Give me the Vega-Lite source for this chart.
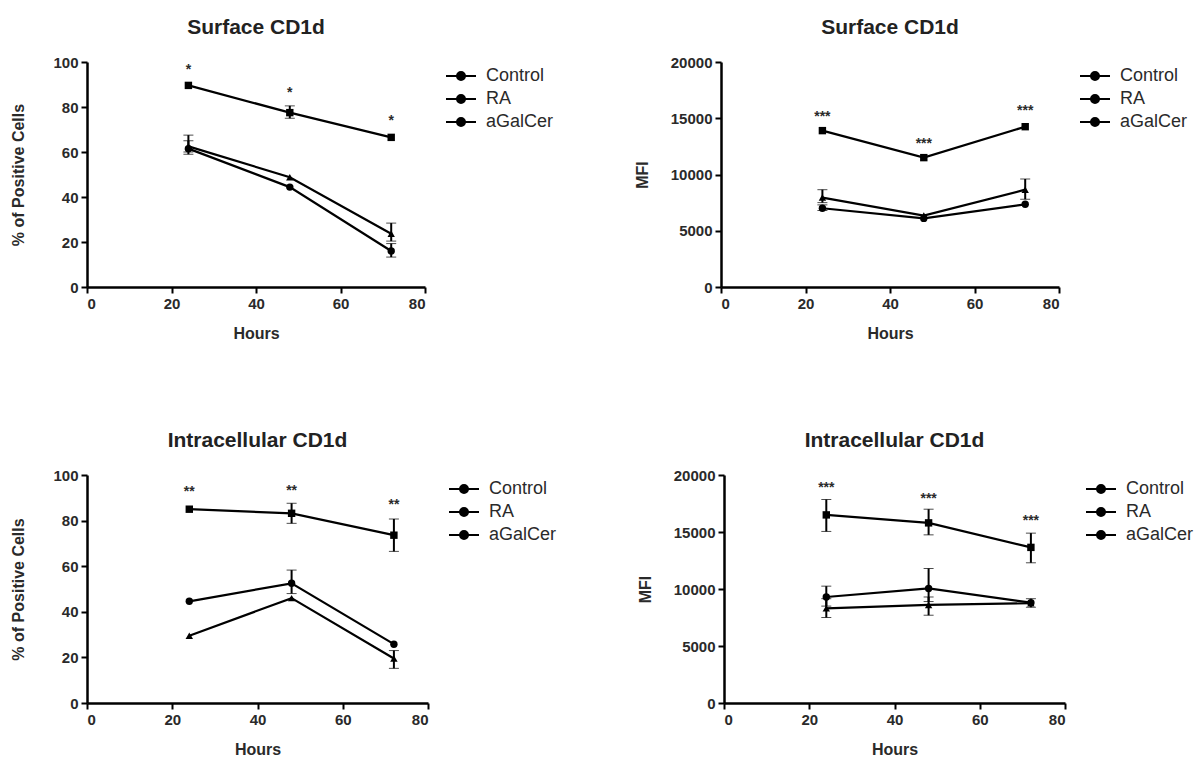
{
  "$schema": "https://vega.github.io/schema/vega-lite/v6.json",
  "background": "white",
  "padding": {"left": 10, "top": 17, "right": 5, "bottom": 2},
  "config": {
    "font": "Liberation Sans",
    "view": {"stroke": null},
    "axis": {"grid": false, "domainColor": "black", "domainWidth": 2.5, "tickColor": "black", "tickWidth": 2, "tickSize": 6, "labelPadding": 3, "labelFont": "Liberation Sans", "labelFontSize": 15, "labelFontWeight": "bold", "labelColor": "#2a2a2a", "titleFont": "Liberation Sans", "titleFontSize": 16, "titleFontWeight": "bold", "titleColor": "#2a2a2a"},
    "title": {"font": "Liberation Sans", "fontSize": 21, "fontWeight": "bold", "color": "#222", "offset": 17},
    "legend": {"labelFont": "Liberation Sans", "labelFontSize": 18, "labelColor": "#2a2a2a", "title": null, "orient": "right", "offset": 22, "symbolType": "M-3,0H3M-0.8,0A0.8,0.8 0 1,1 0.8,0A0.8,0.8 0 1,1 -0.8,0", "symbolSize": 100, "symbolStrokeWidth": 2, "symbolFillColor": "black", "symbolStrokeColor": "black", "labelOffset": 16, "rowPadding": 5, "padding": 5}
  },
  "datasets": {
    "d": [
      {"panel": 1, "series": "Control", "hour": 24, "mean": 61.5, "lo": 59, "hi": 65},
      {"panel": 1, "series": "Control", "hour": 48, "mean": 44.4, "lo": null, "hi": null},
      {"panel": 1, "series": "Control", "hour": 72, "mean": 16, "lo": 13.3, "hi": 19.3},
      {"panel": 1, "series": "RA", "hour": 24, "mean": 89.6, "lo": null, "hi": null},
      {"panel": 1, "series": "RA", "hour": 48, "mean": 77.5, "lo": 75, "hi": 80.5},
      {"panel": 1, "series": "RA", "hour": 72, "mean": 66.5, "lo": null, "hi": null},
      {"panel": 1, "series": "aGalCer", "hour": 24, "mean": 62.5, "lo": 60, "hi": 67.5},
      {"panel": 1, "series": "aGalCer", "hour": 48, "mean": 48.8, "lo": null, "hi": null},
      {"panel": 1, "series": "aGalCer", "hour": 72, "mean": 23.7, "lo": 20.4, "hi": 28.4},

      {"panel": 2, "series": "Control", "hour": 24, "mean": 7000, "lo": 6800, "hi": 7300},
      {"panel": 2, "series": "Control", "hour": 48, "mean": 6100, "lo": null, "hi": null},
      {"panel": 2, "series": "Control", "hour": 72, "mean": 7350, "lo": null, "hi": null},
      {"panel": 2, "series": "RA", "hour": 24, "mean": 13900, "lo": null, "hi": null},
      {"panel": 2, "series": "RA", "hour": 48, "mean": 11500, "lo": null, "hi": null},
      {"panel": 2, "series": "RA", "hour": 72, "mean": 14250, "lo": null, "hi": null},
      {"panel": 2, "series": "aGalCer", "hour": 24, "mean": 7950, "lo": 7500, "hi": 8650},
      {"panel": 2, "series": "aGalCer", "hour": 48, "mean": 6350, "lo": null, "hi": null},
      {"panel": 2, "series": "aGalCer", "hour": 72, "mean": 8650, "lo": 7800, "hi": 9600},

      {"panel": 3, "series": "Control", "hour": 24, "mean": 44.6, "lo": null, "hi": null},
      {"panel": 3, "series": "Control", "hour": 48, "mean": 52.5, "lo": 48, "hi": 58.3},
      {"panel": 3, "series": "Control", "hour": 72, "mean": 25.8, "lo": null, "hi": null},
      {"panel": 3, "series": "RA", "hour": 24, "mean": 85, "lo": null, "hi": null},
      {"panel": 3, "series": "RA", "hour": 48, "mean": 83.2, "lo": 78.8, "hi": 87.6},
      {"panel": 3, "series": "RA", "hour": 72, "mean": 73.6, "lo": 66.5, "hi": 80.7},
      {"panel": 3, "series": "aGalCer", "hour": 24, "mean": 29.5, "lo": null, "hi": null},
      {"panel": 3, "series": "aGalCer", "hour": 48, "mean": 46, "lo": null, "hi": null},
      {"panel": 3, "series": "aGalCer", "hour": 72, "mean": 19.5, "lo": 15.2, "hi": 23},

      {"panel": 4, "series": "Control", "hour": 24, "mean": 9300, "lo": 8500, "hi": 10250},
      {"panel": 4, "series": "Control", "hour": 48, "mean": 10050, "lo": 8900, "hi": 11800},
      {"panel": 4, "series": "Control", "hour": 72, "mean": 8800, "lo": null, "hi": null},
      {"panel": 4, "series": "RA", "hour": 24, "mean": 16500, "lo": 15050, "hi": 17850},
      {"panel": 4, "series": "RA", "hour": 48, "mean": 15800, "lo": 14750, "hi": 17000},
      {"panel": 4, "series": "RA", "hour": 72, "mean": 13650, "lo": 12300, "hi": 14900},
      {"panel": 4, "series": "aGalCer", "hour": 24, "mean": 8300, "lo": 7500, "hi": 9150},
      {"panel": 4, "series": "aGalCer", "hour": 48, "mean": 8600, "lo": 7700, "hi": 9300},
      {"panel": 4, "series": "aGalCer", "hour": 72, "mean": 8750, "lo": 8400, "hi": 9150}
    ],
    "stars": [
      {"panel": 1, "hour": 24, "y": 94.5, "label": "*"},
      {"panel": 1, "hour": 48, "y": 84.5, "label": "*"},
      {"panel": 1, "hour": 72, "y": 72, "label": "*"},
      {"panel": 2, "hour": 24, "y": 14800, "label": "***"},
      {"panel": 2, "hour": 48, "y": 12400, "label": "***"},
      {"panel": 2, "hour": 72, "y": 15250, "label": "***"},
      {"panel": 3, "hour": 24, "y": 90.7, "label": "**"},
      {"panel": 3, "hour": 48, "y": 91.4, "label": "**"},
      {"panel": 3, "hour": 72, "y": 85, "label": "**"},
      {"panel": 4, "hour": 24, "y": 18480, "label": "***"},
      {"panel": 4, "hour": 48, "y": 17550, "label": "***"},
      {"panel": 4, "hour": 72, "y": 15590, "label": "***"}
    ]
  },
  "resolve": {"scale": {"color": "independent"}, "legend": {"color": "independent"}},
  "spacing": 89,
  "vconcat": [
    {
      "resolve": {"scale": {"color": "independent"}, "legend": {"color": "independent"}},
      "spacing": 75,
      "hconcat": [
        {
          "width": 338, "height": 225,
          "title": "Surface CD1d",
          "layer": [
            {"data": {"name": "d"}, "transform": [{"filter": "datum.panel == 1"}],
             "mark": {"type": "line", "strokeWidth": 2.2},
             "encoding": {
               "x": {"field": "hour", "type": "quantitative", "title": "Hours", "scale": {"domain": [0, 80], "nice": false}, "axis": {"values": [0, 20, 40, 60, 80], "titlePadding": 14}},
               "y": {"field": "mean", "type": "quantitative", "title": "% of Positive Cells", "scale": {"domain": [0, 100], "nice": false}, "axis": {"values": [0, 20, 40, 60, 80, 100], "titlePadding": 26}},
               "color": {"field": "series", "type": "nominal", "scale": {"domain": ["Control", "RA", "aGalCer"], "range": ["black", "black", "black"]}}
             }},
            {"data": {"name": "d"}, "transform": [{"filter": "datum.panel == 1 && datum.lo != null"}],
             "mark": {"type": "errorbar", "ticks": {"size": 10, "strokeWidth": 2, "color": "black"}, "rule": {"strokeWidth": 2, "color": "black"}},
             "encoding": {"x": {"field": "hour", "type": "quantitative", "title": "Hours"}, "y": {"field": "lo", "type": "quantitative", "title": "% of Positive Cells"}, "y2": {"field": "hi"}}},
            {"data": {"name": "d"}, "transform": [{"filter": "datum.panel == 1 && datum.series == 'Control'"}],
             "mark": {"type": "point", "shape": "circle", "filled": true, "opacity": 1, "color": "black", "size": 55},
             "encoding": {"x": {"field": "hour", "type": "quantitative", "title": "Hours"}, "y": {"field": "mean", "type": "quantitative", "title": "% of Positive Cells"}}},
            {"data": {"name": "d"}, "transform": [{"filter": "datum.panel == 1 && datum.series == 'RA'"}],
             "mark": {"type": "point", "shape": "square", "filled": true, "opacity": 1, "color": "black", "size": 55},
             "encoding": {"x": {"field": "hour", "type": "quantitative", "title": "Hours"}, "y": {"field": "mean", "type": "quantitative", "title": "% of Positive Cells"}}},
            {"data": {"name": "d"}, "transform": [{"filter": "datum.panel == 1 && datum.series == 'aGalCer'"}],
             "mark": {"type": "point", "shape": "triangle-up", "filled": true, "opacity": 1, "color": "black", "size": 55},
             "encoding": {"x": {"field": "hour", "type": "quantitative", "title": "Hours"}, "y": {"field": "mean", "type": "quantitative", "title": "% of Positive Cells"}}},
            {"data": {"name": "stars"}, "transform": [{"filter": "datum.panel == 1"}],
             "mark": {"type": "text", "fontSize": 14, "fontWeight": "bold", "color": "#2a2a2a", "baseline": "alphabetic"},
             "encoding": {"x": {"field": "hour", "type": "quantitative", "title": "Hours"}, "y": {"field": "y", "type": "quantitative", "title": "% of Positive Cells"}, "text": {"field": "label"}}}
          ]
        },
        {
          "width": 338, "height": 225,
          "title": "Surface CD1d",
          "layer": [
            {"data": {"name": "d"}, "transform": [{"filter": "datum.panel == 2"}],
             "mark": {"type": "line", "strokeWidth": 2.2},
             "encoding": {
               "x": {"field": "hour", "type": "quantitative", "title": "Hours", "scale": {"domain": [0, 80], "nice": false}, "axis": {"values": [0, 20, 40, 60, 80], "titlePadding": 14}},
               "y": {"field": "mean", "type": "quantitative", "title": "MFI", "scale": {"domain": [0, 20000], "nice": false}, "axis": {"values": [0, 5000, 10000, 15000, 20000], "format": "d", "titlePadding": 20}},
               "color": {"field": "series", "type": "nominal", "scale": {"domain": ["Control", "RA", "aGalCer"], "range": ["black", "black", "black"]}}
             }},
            {"data": {"name": "d"}, "transform": [{"filter": "datum.panel == 2 && datum.lo != null"}],
             "mark": {"type": "errorbar", "ticks": {"size": 10, "strokeWidth": 2, "color": "black"}, "rule": {"strokeWidth": 2, "color": "black"}},
             "encoding": {"x": {"field": "hour", "type": "quantitative", "title": "Hours"}, "y": {"field": "lo", "type": "quantitative", "title": "MFI"}, "y2": {"field": "hi"}}},
            {"data": {"name": "d"}, "transform": [{"filter": "datum.panel == 2 && datum.series == 'Control'"}],
             "mark": {"type": "point", "shape": "circle", "filled": true, "opacity": 1, "color": "black", "size": 55},
             "encoding": {"x": {"field": "hour", "type": "quantitative", "title": "Hours"}, "y": {"field": "mean", "type": "quantitative", "title": "MFI"}}},
            {"data": {"name": "d"}, "transform": [{"filter": "datum.panel == 2 && datum.series == 'RA'"}],
             "mark": {"type": "point", "shape": "square", "filled": true, "opacity": 1, "color": "black", "size": 55},
             "encoding": {"x": {"field": "hour", "type": "quantitative", "title": "Hours"}, "y": {"field": "mean", "type": "quantitative", "title": "MFI"}}},
            {"data": {"name": "d"}, "transform": [{"filter": "datum.panel == 2 && datum.series == 'aGalCer'"}],
             "mark": {"type": "point", "shape": "triangle-up", "filled": true, "opacity": 1, "color": "black", "size": 55},
             "encoding": {"x": {"field": "hour", "type": "quantitative", "title": "Hours"}, "y": {"field": "mean", "type": "quantitative", "title": "MFI"}}},
            {"data": {"name": "stars"}, "transform": [{"filter": "datum.panel == 2"}],
             "mark": {"type": "text", "fontSize": 14, "fontWeight": "bold", "color": "#2a2a2a", "baseline": "alphabetic"},
             "encoding": {"x": {"field": "hour", "type": "quantitative", "title": "Hours"}, "y": {"field": "y", "type": "quantitative", "title": "MFI"}, "text": {"field": "label"}}}
          ]
        }
      ]
    },
    {
      "resolve": {"scale": {"color": "independent"}, "legend": {"color": "independent"}},
      "spacing": 75,
      "hconcat": [
        {
          "width": 341, "height": 228,
          "title": "Intracellular CD1d",
          "layer": [
            {"data": {"name": "d"}, "transform": [{"filter": "datum.panel == 3"}],
             "mark": {"type": "line", "strokeWidth": 2.2},
             "encoding": {
               "x": {"field": "hour", "type": "quantitative", "title": "Hours", "scale": {"domain": [0, 80], "nice": false}, "axis": {"values": [0, 20, 40, 60, 80], "titlePadding": 14}},
               "y": {"field": "mean", "type": "quantitative", "title": "% of Positive Cells", "scale": {"domain": [0, 100], "nice": false}, "axis": {"values": [0, 20, 40, 60, 80, 100], "titlePadding": 26}},
               "color": {"field": "series", "type": "nominal", "scale": {"domain": ["Control", "RA", "aGalCer"], "range": ["black", "black", "black"]}}
             }},
            {"data": {"name": "d"}, "transform": [{"filter": "datum.panel == 3 && datum.lo != null"}],
             "mark": {"type": "errorbar", "ticks": {"size": 10, "strokeWidth": 2, "color": "black"}, "rule": {"strokeWidth": 2, "color": "black"}},
             "encoding": {"x": {"field": "hour", "type": "quantitative", "title": "Hours"}, "y": {"field": "lo", "type": "quantitative", "title": "% of Positive Cells"}, "y2": {"field": "hi"}}},
            {"data": {"name": "d"}, "transform": [{"filter": "datum.panel == 3 && datum.series == 'Control'"}],
             "mark": {"type": "point", "shape": "circle", "filled": true, "opacity": 1, "color": "black", "size": 55},
             "encoding": {"x": {"field": "hour", "type": "quantitative", "title": "Hours"}, "y": {"field": "mean", "type": "quantitative", "title": "% of Positive Cells"}}},
            {"data": {"name": "d"}, "transform": [{"filter": "datum.panel == 3 && datum.series == 'RA'"}],
             "mark": {"type": "point", "shape": "square", "filled": true, "opacity": 1, "color": "black", "size": 55},
             "encoding": {"x": {"field": "hour", "type": "quantitative", "title": "Hours"}, "y": {"field": "mean", "type": "quantitative", "title": "% of Positive Cells"}}},
            {"data": {"name": "d"}, "transform": [{"filter": "datum.panel == 3 && datum.series == 'aGalCer'"}],
             "mark": {"type": "point", "shape": "triangle-up", "filled": true, "opacity": 1, "color": "black", "size": 55},
             "encoding": {"x": {"field": "hour", "type": "quantitative", "title": "Hours"}, "y": {"field": "mean", "type": "quantitative", "title": "% of Positive Cells"}}},
            {"data": {"name": "stars"}, "transform": [{"filter": "datum.panel == 3"}],
             "mark": {"type": "text", "fontSize": 14, "fontWeight": "bold", "color": "#2a2a2a", "baseline": "alphabetic"},
             "encoding": {"x": {"field": "hour", "type": "quantitative", "title": "Hours"}, "y": {"field": "y", "type": "quantitative", "title": "% of Positive Cells"}, "text": {"field": "label"}}}
          ]
        },
        {
          "width": 341, "height": 228,
          "title": "Intracellular CD1d",
          "layer": [
            {"data": {"name": "d"}, "transform": [{"filter": "datum.panel == 4"}],
             "mark": {"type": "line", "strokeWidth": 2.2},
             "encoding": {
               "x": {"field": "hour", "type": "quantitative", "title": "Hours", "scale": {"domain": [0, 80], "nice": false}, "axis": {"values": [0, 20, 40, 60, 80], "titlePadding": 14}},
               "y": {"field": "mean", "type": "quantitative", "title": "MFI", "scale": {"domain": [0, 20000], "nice": false}, "axis": {"values": [0, 5000, 10000, 15000, 20000], "format": "d", "titlePadding": 20}},
               "color": {"field": "series", "type": "nominal", "scale": {"domain": ["Control", "RA", "aGalCer"], "range": ["black", "black", "black"]}}
             }},
            {"data": {"name": "d"}, "transform": [{"filter": "datum.panel == 4 && datum.lo != null"}],
             "mark": {"type": "errorbar", "ticks": {"size": 10, "strokeWidth": 2, "color": "black"}, "rule": {"strokeWidth": 2, "color": "black"}},
             "encoding": {"x": {"field": "hour", "type": "quantitative", "title": "Hours"}, "y": {"field": "lo", "type": "quantitative", "title": "MFI"}, "y2": {"field": "hi"}}},
            {"data": {"name": "d"}, "transform": [{"filter": "datum.panel == 4 && datum.series == 'Control'"}],
             "mark": {"type": "point", "shape": "circle", "filled": true, "opacity": 1, "color": "black", "size": 55},
             "encoding": {"x": {"field": "hour", "type": "quantitative", "title": "Hours"}, "y": {"field": "mean", "type": "quantitative", "title": "MFI"}}},
            {"data": {"name": "d"}, "transform": [{"filter": "datum.panel == 4 && datum.series == 'RA'"}],
             "mark": {"type": "point", "shape": "square", "filled": true, "opacity": 1, "color": "black", "size": 55},
             "encoding": {"x": {"field": "hour", "type": "quantitative", "title": "Hours"}, "y": {"field": "mean", "type": "quantitative", "title": "MFI"}}},
            {"data": {"name": "d"}, "transform": [{"filter": "datum.panel == 4 && datum.series == 'aGalCer'"}],
             "mark": {"type": "point", "shape": "triangle-up", "filled": true, "opacity": 1, "color": "black", "size": 55},
             "encoding": {"x": {"field": "hour", "type": "quantitative", "title": "Hours"}, "y": {"field": "mean", "type": "quantitative", "title": "MFI"}}},
            {"data": {"name": "stars"}, "transform": [{"filter": "datum.panel == 4"}],
             "mark": {"type": "text", "fontSize": 14, "fontWeight": "bold", "color": "#2a2a2a", "baseline": "alphabetic"},
             "encoding": {"x": {"field": "hour", "type": "quantitative", "title": "Hours"}, "y": {"field": "y", "type": "quantitative", "title": "MFI"}, "text": {"field": "label"}}}
          ]
        }
      ]
    }
  ]
}
